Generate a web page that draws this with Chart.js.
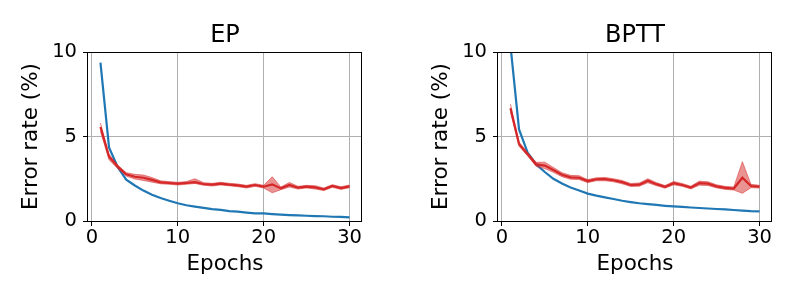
<!DOCTYPE html>
<html>
<head>
<meta charset="utf-8">
<script src="https://cdn.jsdelivr.net/npm/chart.js@4/dist/chart.umd.min.js"></script>
<style>
    html, body { margin: 0; padding: 0; background: #fff; }
    #wrap { position: relative; width: 800px; height: 300px; }
    canvas { position: absolute; top: 0; }
    #chart-ep { left: 0; }
    #chart-bptt { left: 410px; }
</style>
</head>
<body>
<div id="wrap">
    <canvas id="chart-ep" width="400" height="300"></canvas>
    <canvas id="chart-bptt" width="390" height="300"></canvas>
</div>
<script>
/* Taxa de erro por época: EP vs BPTT (treino em azul, teste em vermelho com faixa). */
var epochs = [1, 2, 3, 4, 5, 6, 7, 8, 9, 10, 11, 12, 13, 14, 15, 16, 17, 18, 19, 20, 21, 22, 23, 24, 25, 26, 27, 28, 29, 30];
var xTicks = [0, 10, 20, 30];

var epTrain = [9.37, 4.35, 3.2, 2.45, 2.1, 1.8, 1.55, 1.36, 1.2, 1.05, 0.93, 0.85, 0.78, 0.7, 0.66, 0.58, 0.55, 0.5, 0.45, 0.45, 0.41, 0.38, 0.35, 0.33, 0.31, 0.29, 0.28, 0.25, 0.24, 0.22];
var epTest = [5.56, 3.8, 3.22, 2.76, 2.62, 2.56, 2.43, 2.29, 2.25, 2.21, 2.25, 2.3, 2.19, 2.15, 2.21, 2.15, 2.11, 2.03, 2.13, 2.03, 2.17, 1.93, 2.13, 1.97, 2.03, 1.99, 1.87, 2.07, 1.95, 2.05];
var epTestLow = [5.3, 3.62, 3.1, 2.66, 2.48, 2.4, 2.3, 2.2, 2.17, 2.13, 2.17, 2.22, 2.11, 2.07, 2.13, 2.08, 2.03, 1.95, 2.05, 1.95, 1.67, 1.85, 2.01, 1.89, 1.95, 1.89, 1.8, 1.99, 1.87, 1.97];
var epTestHigh = [5.8, 3.95, 3.32, 2.86, 2.76, 2.72, 2.57, 2.38, 2.33, 2.29, 2.33, 2.5, 2.27, 2.23, 2.29, 2.23, 2.19, 2.11, 2.21, 2.11, 2.62, 2.01, 2.28, 2.05, 2.11, 2.09, 1.95, 2.15, 2.03, 2.13];

var bpttTrain = [10.4, 5.42, 4.05, 3.35, 2.9, 2.5, 2.22, 1.98, 1.8, 1.62, 1.5, 1.4, 1.3, 1.2, 1.12, 1.05, 1.0, 0.95, 0.9, 0.86, 0.83, 0.8, 0.77, 0.74, 0.71, 0.69, 0.65, 0.61, 0.58, 0.57];
var bpttTest = [6.67, 4.55, 3.95, 3.35, 3.28, 3.02, 2.74, 2.58, 2.56, 2.36, 2.47, 2.48, 2.41, 2.3, 2.13, 2.15, 2.38, 2.18, 2.02, 2.24, 2.13, 1.98, 2.24, 2.21, 2.05, 1.96, 1.92, 2.56, 2.07, 2.03];
var bpttTestLow = [6.45, 4.42, 3.85, 3.22, 3.1, 2.88, 2.62, 2.47, 2.45, 2.27, 2.38, 2.38, 2.32, 2.2, 2.04, 2.06, 2.26, 2.09, 1.94, 2.14, 2.05, 1.9, 2.12, 2.1, 1.96, 1.87, 1.83, 1.64, 1.97, 1.95];
var bpttTestHigh = [6.92, 4.68, 4.05, 3.47, 3.48, 3.17, 2.86, 2.7, 2.68, 2.45, 2.56, 2.58, 2.5, 2.4, 2.22, 2.25, 2.5, 2.27, 2.1, 2.34, 2.22, 2.06, 2.36, 2.32, 2.14, 2.05, 2.01, 3.51, 2.17, 2.11];

(function (w) {
    "use strict";

    var AZUL = "#1f77b4";
    var VERMELHO = "#d62728";
    var FAIXA = "rgba(214,39,40,0.5)";
    var FONTE = "'DejaVu Sans', sans-serif";

    function pts(ys) {
        return epochs.map(function (x, i) { return { x: x, y: ys[i] }; });
    }

    // moldura preta (spines) em volta da área do gráfico
    var moldura = {
        id: "moldura",
        afterDraw: function (chart) {
            var a = chart.chartArea, ctx = chart.ctx;
            ctx.save();
            ctx.strokeStyle = "#000";
            ctx.lineWidth = 1;
            ctx.strokeRect(Math.round(a.left) - 0.5, Math.round(a.top) + 0.5,
                Math.round(a.right) - Math.round(a.left), Math.round(a.bottom) - Math.round(a.top));
            ctx.restore();
        }
    };

    function criar(id, titulo, train, test, low, high, padRight) {
        return new Chart(document.getElementById(id), {
            type: "line",
            data: {
                datasets: [
                    { data: pts(test), borderColor: VERMELHO, borderWidth: 2.2, pointRadius: 0, fill: false },
                    { data: pts(low), borderColor: FAIXA, borderWidth: 1, pointRadius: 0, fill: false },
                    { data: pts(high), borderColor: FAIXA, backgroundColor: FAIXA, borderWidth: 1, pointRadius: 0, fill: "-1" },
                    { data: pts(train), borderColor: AZUL, borderWidth: 2.2, pointRadius: 0, fill: false }
                ]
            },
            options: {
                responsive: false,
                animation: false,
                events: [],
                layout: { padding: { left: 0, right: padRight, top: 0, bottom: 0 } },
                plugins: {
                    legend: { display: false },
                    tooltip: { enabled: false },
                    title: {
                        display: true, text: titulo, color: "#000", fullSize: false,
                        font: { family: FONTE, size: 24, weight: "normal", lineHeight: 1.2 },
                        padding: { top: 21, bottom: 2.2 }
                    }
                },
                scales: {
                    x: {
                        type: "linear", min: -0.45, max: 31.45,
                        afterFit: function (ax) { ax.height = 79; },
                        afterBuildTicks: function (ax) { ax.ticks = xTicks.map(function (v) { return { value: v }; }); },
                        grid: { color: "#b0b0b0", lineWidth: 1, tickColor: "#000", tickLength: 5 },
                        border: { display: false },
                        ticks: { color: "#000", padding: 0, maxRotation: 0, font: { family: FONTE, size: 19.5 } },
                        title: { display: true, text: "Epochs", color: "#000", padding: { top: 0, bottom: 22.9 },
                            font: { family: FONTE, size: 21.5, lineHeight: 1.2 } }
                    },
                    y: {
                        min: 0, max: 10,
                        afterFit: function (ax) { ax.width = 88; },
                        grid: { color: "#b0b0b0", lineWidth: 1, tickColor: "#000", tickLength: 5 },
                        border: { display: false },
                        ticks: { stepSize: 5, color: "#000", padding: 6, font: { family: FONTE, size: 19.5 } },
                        title: { display: true, text: "Error rate (%)", color: "#000", padding: { top: 18.8, bottom: 0 },
                            font: { family: FONTE, size: 21.5, lineHeight: 1.2 } }
                    }
                }
            },
            plugins: [moldura]
        });
    }

    criar("chart-ep", "EP", epTrain, epTest, epTestLow, epTestHigh, 38);
    criar("chart-bptt", "BPTT", bpttTrain, bpttTest, bpttTestLow, bpttTestHigh, 28);
})(window);
</script>
</body>
</html>
